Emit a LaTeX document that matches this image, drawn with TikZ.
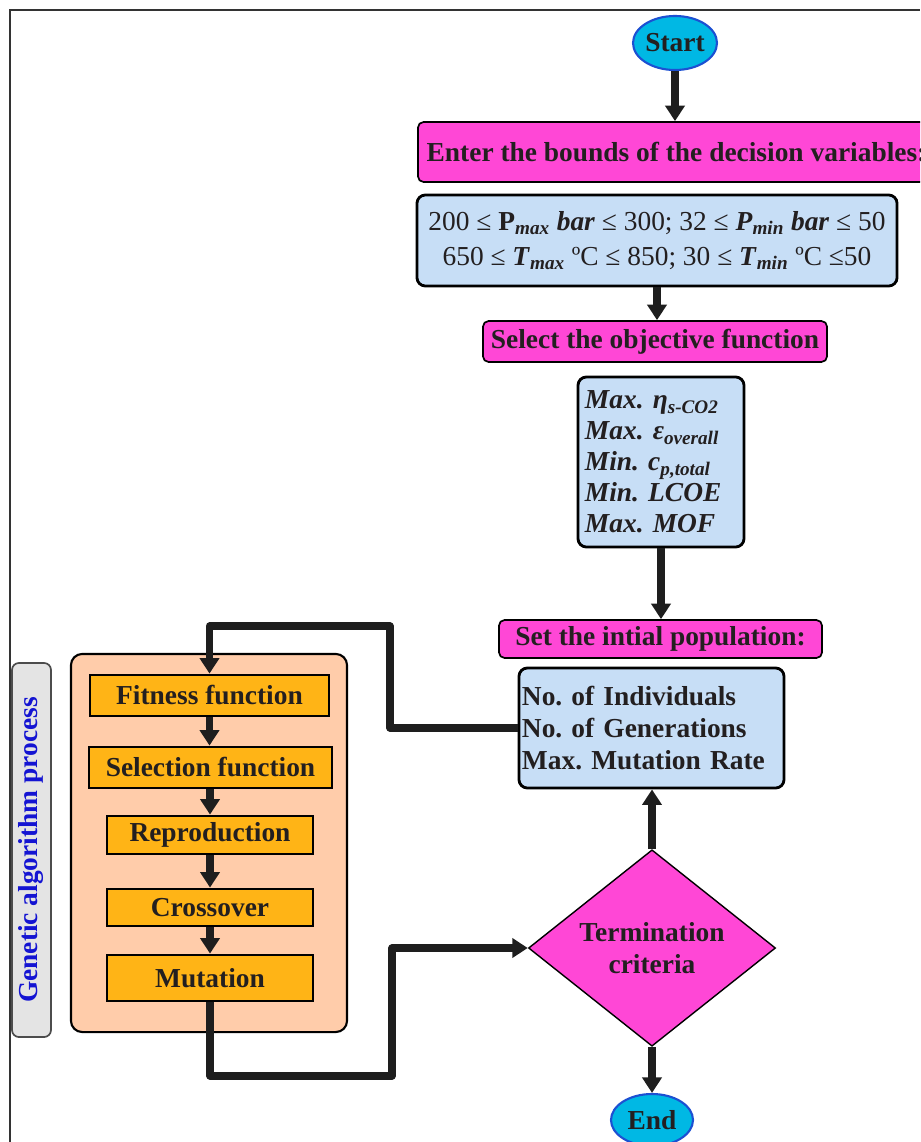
\documentclass[tikz,border=0pt]{standalone}
\usepackage{fontspec}
\setmainfont{Liberation Serif}
\usepackage{tikz}
\usetikzlibrary{positioning}
\usetikzlibrary{shapes.geometric}
\usetikzlibrary{arrows.meta}
\frenchspacing

\definecolor{gapink}{RGB}{255,71,214}
\definecolor{galight}{RGB}{199,222,246}
\definecolor{gacyan}{RGB}{0,184,228}
\definecolor{gablue}{RGB}{28,80,210}
\definecolor{gapeach}{RGB}{255,204,170}
\definecolor{gaorange}{RGB}{255,180,22}
\definecolor{gagray}{RGB}{228,228,228}
\definecolor{galabel}{RGB}{20,20,210}
\definecolor{gatext}{RGB}{35,31,32}
\definecolor{galine}{RGB}{30,30,30}

\begin{document}
\begin{tikzpicture}[x=0.025cm, y=-0.025cm,
    every node/.style={font=\fontsize{19.5}{23}\selectfont\bfseries, text=gatext},
    terminal/.style={ellipse, draw=gablue, line width=1.5pt, fill=gacyan, minimum width=2.05cm, minimum height=1.35cm, inner sep=0pt},
    headbox/.style={draw, line width=1.2pt, rounded corners=4pt, fill=gapink, inner sep=0pt},
    infobox/.style={draw, line width=2pt, rounded corners=6pt, fill=galight, inner sep=0pt},
    stepbox/.style={draw, line width=2pt, fill=gaorange, inner sep=0pt, minimum height=1.025cm},
    flow/.style={-{Triangle[width=13.5pt,length=11pt]}, line width=5pt, draw=galine, line join=round}]

                \useasboundingbox (0,0) rectangle (920,1142);
                \clip (0,0) rectangle (920,1142);
                \draw[line width=1.5pt, black!80] (10,1142) -- (10,10) -- (920,10);

                % Nodes
                \node at (675,43) (start) [terminal] {Start};
                \node at (676.5,152) (bounds) [headbox, minimum width=12.925cm, minimum height=1.5cm] {Enter the bounds of the decision variables:};
                \node at (657,240.5) (ranges) [infobox, minimum width=12cm, minimum height=2.275cm, align=center, font=\fontsize{19.5}{25}\selectfont] {200 ≤ \textbf{P}\textsubscript{\textbf{\textit{max}}} \textbf{\textit{bar}} ≤ 300; 32 ≤ \textbf{\textit{P}}\textsubscript{\textbf{\textit{min}}} \textbf{\textit{bar}} ≤ 50\\650 ≤ \textbf{\textit{T}}\textsubscript{\textbf{\textit{max}}} ºC ≤ 850; 30 ≤ \textbf{\textit{T}}\textsubscript{\textbf{\textit{min}}} ºC ≤50};
                \node at (655,341.5) (objsel) [headbox, minimum width=8.6cm, minimum height=1.025cm] {Select the objective function};
                \node at (661,462) (objective) [infobox, minimum width=4.15cm, minimum height=4.25cm, text width=3.8cm, align=left, font=\fontsize{19.5}{22}\selectfont\bfseries\itshape] {Max. η\textsubscript{s-CO2}\\Max. ε\textsubscript{overall}\\Min. c\textsubscript{p,total}\\Min. LCOE\\Max. MOF};
                \node at (660.5,639) (initpop) [headbox, minimum width=8.075cm, minimum height=0.95cm] {Set the intial population:};
                \node at (651.5,728) (population) [infobox, minimum width=6.625cm, minimum height=3cm, text width=6.475cm, align=left, font=\fontsize{19.5}{22.7}\selectfont\bfseries] {No. of Individuals\\No. of Generations\\Max. Mutation Rate};
                \node at (652,948) (termination) [diamond, draw, line width=1pt, fill=gapink, minimum width=6.175cm, minimum height=4.55cm, inner sep=0pt, align=center, font=\fontsize{19.5}{22.7}\selectfont\bfseries] {Termination\\criteria};
                \node at (652,1120) (stop) [terminal, minimum height=1.3cm] {End};

                % Genetic algorithm block
                \node at (31.5,850) (galabel) [draw=black!70, line width=1.2pt, rounded corners=5pt, fill=gagray, rotate=90, minimum width=9.35cm, minimum height=0.975cm, inner sep=0pt, text=galabel] {Genetic algorithm process};
                \node at (209,843) (gabox) [draw, line width=1.5pt, rounded corners=8pt, fill=gapeach, minimum width=6.9cm, minimum height=9.45cm] {};
                \node at (209.5,695.5) (fitness) [stepbox, minimum width=5.975cm] {Fitness function};
                \node at (210.5,767.5) (selection) [stepbox, minimum width=6.075cm] {Selection function};
                \node at (210,835) (reproduction) [stepbox, minimum width=5.15cm, minimum height=0.95cm] {Reproduction};
                \node at (210,907.5) (crossover) [stepbox, minimum width=5.15cm, minimum height=0.925cm] {Crossover};
                \node at (210,978) (mutation) [stepbox, minimum width=5.15cm, minimum height=1.15cm] {Mutation};

                \coordinate (loopup) at (390,626);
                \coordinate (loopdown) at (392,1076);

                % Arrows
                \draw[flow] (start.south) -- (start.south |- bounds.north);
                \draw[flow] (ranges.south) -- (ranges.south |- objsel.north);
                \draw[flow] (objective.south) -- (objective.south |- initpop.north);
                \draw[flow] (termination.north) -- (termination.north |- population.south);
                \draw[flow] (termination.south) -- (stop.north);
                \draw[flow] (fitness.south) -- (fitness.south |- selection.north);
                \draw[flow] (reproduction.north |- selection.south) -- (reproduction.north);
                \draw[flow] (reproduction) -- (crossover);
                \draw[flow] (crossover) -- (mutation);
                \draw[flow] (population.west) -| (loopup) -| (fitness.north);
                \draw[flow] (mutation.south) |- (loopdown) |- (termination.west);

            \end{tikzpicture}
\end{document}
